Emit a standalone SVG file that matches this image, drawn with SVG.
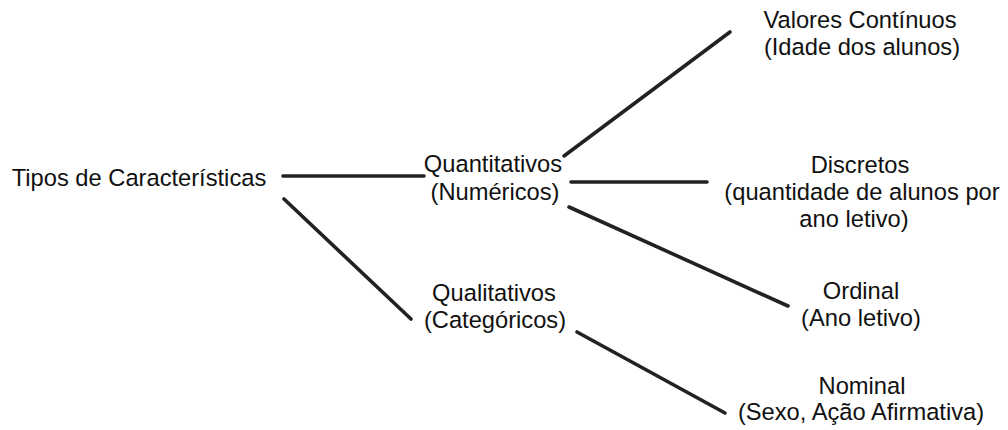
<svg xmlns="http://www.w3.org/2000/svg" width="1008" height="430" viewBox="0 0 1008 430">
<style>
text{font-family:"Liberation Sans",Arial,sans-serif;font-size:23.7px;fill:#111;text-anchor:middle}
.c line{stroke:#222;stroke-width:3.6;stroke-linecap:round}
</style>
<rect width="1008" height="430" fill="#fff"/>
<g class="c" id="connectors">
<line x1="283" y1="176" x2="424" y2="176"/>
<line x1="284" y1="199" x2="411" y2="319"/>
<line x1="564" y1="156" x2="730" y2="32"/>
<line x1="571" y1="182" x2="707" y2="182"/>
<line x1="569" y1="207" x2="788" y2="306"/>
<line x1="577" y1="332" x2="725" y2="413"/>
</g>
<g id="tipos"><text x="139" y="186">Tipos de Características</text></g>
<g id="quantitativos"><text x="493" y="172">Quantitativos</text><text x="495" y="200">(Numéricos)</text></g>
<g id="qualitativos"><text x="494" y="301">Qualitativos</text><text x="495" y="328">(Categóricos)</text></g>
<g id="continuos"><text x="860" y="28">Valores Contínuos</text><text x="862" y="55">(Idade dos alunos)</text></g>
<g id="discretos"><text x="860" y="173">Discretos</text><text x="862" y="200">(quantidade de alunos por</text><text x="854" y="227">ano letivo)</text></g>
<g id="ordinal"><text x="861" y="299">Ordinal</text><text x="861" y="326">(Ano letivo)</text></g>
<g id="nominal"><text x="862" y="394">Nominal</text><text x="861" y="420">(Sexo, Ação Afirmativa)</text></g>
</svg>
